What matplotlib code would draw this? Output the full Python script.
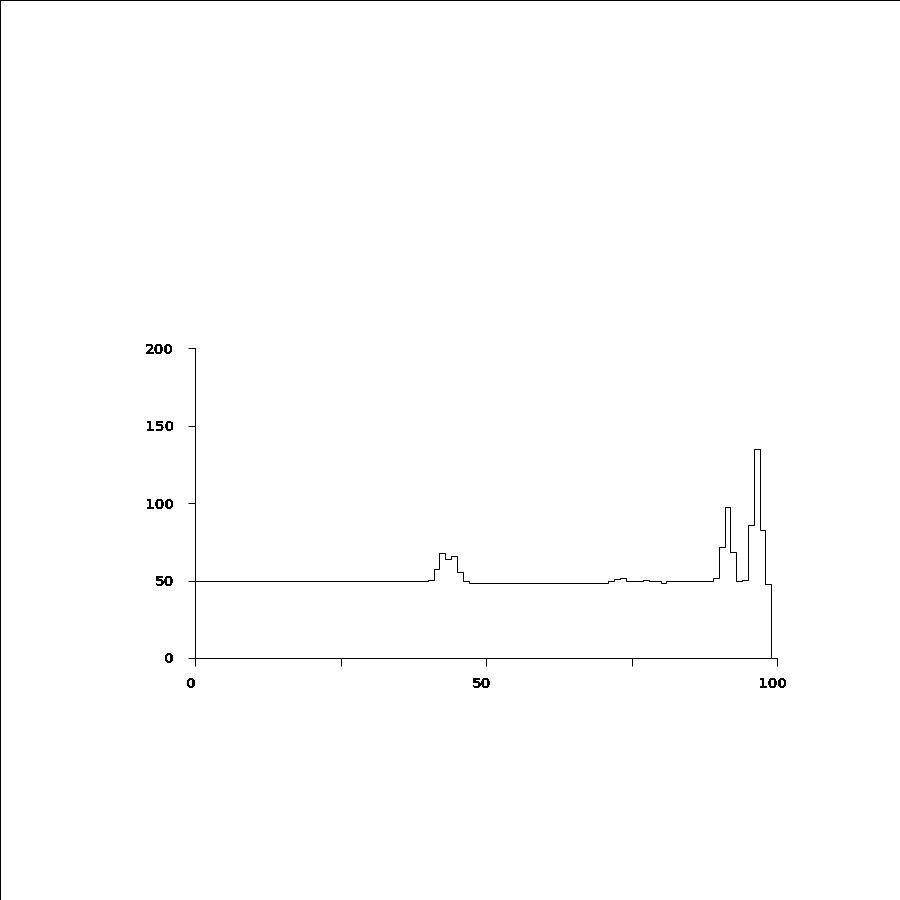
import numpy as np
import matplotlib
matplotlib.use("Agg")
import matplotlib.pyplot as plt
import matplotlib.transforms as mtransforms
from matplotlib.lines import Line2D

# bin counts, one per unit bin from 0 to 99
counts = [
    49.5, 49.5, 49.5, 49.5, 49.5, 49.5, 49.5, 49.5, 49.5, 49.5,
    49.5, 49.5, 49.5, 49.5, 49.5, 49.5, 49.5, 49.5, 49.5, 49.5,
    49.5, 49.5, 49.5, 49.5, 49.5, 49.5, 49.5, 49.5, 49.5, 49.5,
    49.5, 49.5, 49.5, 49.5, 49.5, 49.5, 49.5, 49.5, 49.5, 49.5,
    50.1, 57.2, 67.5, 63.7, 65.8, 55.3, 49.5, 48.3, 48.3, 48.3,
    48.3, 48.3, 48.3, 48.3, 48.3, 48.3, 48.3, 48.3, 48.3, 48.3,
    48.3, 48.3, 48.3, 48.3, 48.3, 48.3, 48.3, 48.3, 48.3, 48.3,
    48.3, 49.7, 51.0, 51.4, 49.7, 49.7, 49.7, 50.1, 49.5, 49.5,
    48.2, 49.5, 49.5, 49.5, 49.5, 49.5, 49.5, 49.5, 49.5, 51.4,
    71.4, 97.2, 68.2, 49.5, 50.1, 85.6, 134.6, 82.6, 47.5,
]
xticks = [0, 25, 50, 75, 100]
xticklabels = ["0", "", "50", "", "100"]
yticks = [0, 50, 100, 150, 200]

plt.rcParams['font.family'] = ['DejaVu Sans']
plt.rcParams['lines.antialiased'] = False
plt.rcParams['text.antialiased'] = False

lw = 0.72  # one pixel at 100 dpi

fig = plt.figure(figsize=(9, 9), dpi=100)
ax = fig.add_axes([0.2167, 0.2689, 0.6467, 0.3444])

edges = np.arange(len(counts) + 1)
ax.stairs(counts, edges, baseline=0, color='black', linewidth=lw)

ax.set_xlim(0, 100)
ax.set_ylim(0, 200)
ax.set_xticks(xticks)
ax.set_xticklabels(xticklabels)
ax.set_yticks(yticks)
ax.spines['top'].set_visible(False)
ax.spines['right'].set_visible(False)
for s in ['left', 'bottom']:
    ax.spines[s].set_linewidth(lw)
    ax.spines[s].set_antialiased(False)
ax.tick_params(axis='x', length=6, width=lw, pad=8, labelsize=10)
ax.tick_params(axis='y', length=5, width=lw, pad=10, labelsize=10)
# x labels sit a few pixels left of their ticks in the original
shift = mtransforms.ScaledTranslation(-4 / 100, 0, fig.dpi_scale_trans)
for lab in ax.get_xticklabels():
    lab.set_transform(lab.get_transform() + shift)
for lab in ax.get_xticklabels() + ax.get_yticklabels():
    lab.set_fontweight('bold')

# frame lines along the top and left edge of the picture
fig.add_artist(Line2D([0, 1], [0.9995, 0.9995], transform=fig.transFigure,
                      color='black', linewidth=lw, antialiased=False))
fig.add_artist(Line2D([0.0005, 0.0005], [0, 1], transform=fig.transFigure,
                      color='black', linewidth=lw, antialiased=False))

fig.savefig("out.png", dpi=100)
